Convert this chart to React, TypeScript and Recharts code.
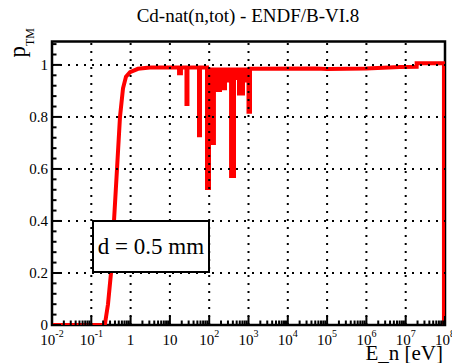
import React from 'react';
import { ComposedChart, Line, Area, XAxis, YAxis, ReferenceLine, ReferenceArea } from 'recharts';

const FONT = '"Liberation Serif", "Times New Roman", serif';

// neutron energy in eV
const energies = [
  0.01, 0.2, 0.223, 0.266, 0.317, 0.378, 0.451, 0.537, 0.641, 0.764, 0.966, 1.54, 3.1,
  17.1, 17.1, 19.1, 19.1,
  26.4, 26.4, 28.0, 28.0,
  55, 55, 58.3, 58.3,
  87.9, 87.9, 98.9, 98.9, 132, 132, 188, 188, 252, 252, 360, 360, 428, 428,
  573, 573, 724, 724, 1000, 1000, 1091, 1091,
  5e4, 1e5, 1e6, 7e6, 1.9e7, 1.9e7, 9.4e7, 9.4e7,
];
// transmission p_TM
const transmission = [
  0, 0, 0.005, 0.08, 0.2, 0.4, 0.6, 0.8, 0.91, 0.955, 0.972, 0.985, 0.99,
  0.99, 0.968, 0.968, 0.99,
  0.99, 0.85, 0.85, 0.99,
  0.99, 0.73, 0.73, 0.99,
  0.99, 0.527, 0.527, 0.7, 0.7, 0.904, 0.904, 0.91, 0.91, 0.94, 0.94, 0.573, 0.573, 0.95,
  0.95, 0.89, 0.89, 0.94, 0.94, 0.82, 0.82, 0.985,
  0.986, 0.984, 0.986, 0.992, 0.993, 1.006, 1.006, 0,
];
// resonance region (eV) and the plateau level the dips hang from
const resonanceRange = [15, 1100];
const plateau = 0.99;

const xDecades = [-2, -1, 0, 1, 2, 3, 4, 5, 6, 7, 8];
const yMajor = [0, 0.2, 0.4, 0.6, 0.8, 1];

const xMajorTicks = xDecades.map((k) => Math.pow(10, k));
const xMinorTicks: number[] = [];
xDecades.slice(0, -1).forEach((k) => {
  for (let m = 2; m <= 9; m++) xMinorTicks.push(m * Math.pow(10, k));
});
const xTicks = [...xMajorTicks, ...xMinorTicks].sort((a, b) => a - b);
const yTicks: number[] = [];
for (let i = 0; i <= 27; i++) yTicks.push(Math.round(i * 4) / 100);

const data = energies.map((e, i) => ({
  e,
  p: transmission[i],
  dip: e >= resonanceRange[0] && e <= resonanceRange[1] ? transmission[i] : null,
}));

const XMIN = 0.01;
const XMAX = 1e8;
const YMAX = 1.09;

const XTick = (props: any) => {
  const { x, y, payload } = props;
  const v = payload.value as number;
  const exp = Math.round(Math.log10(v));
  const major = Math.abs(v - Math.pow(10, exp)) < 1e-6 * v;
  return (
    <g>
      <line x1={x} x2={x} y1={y} y2={y - (major ? 9 : 4.5)} stroke="#000" strokeWidth={2} />
      {major && (
        <text x={x} y={y + 20} textAnchor="middle" fontSize={15} fontFamily={FONT} fill="#000">
          {exp === 0 ? (
            '1'
          ) : exp === 1 ? (
            '10'
          ) : (
            <>
              <tspan>10</tspan>
              <tspan dy={-8} fontSize={10}>{String(exp)}</tspan>
            </>
          )}
        </text>
      )}
    </g>
  );
};

const YTick = (props: any) => {
  const { x, y, payload } = props;
  const v = payload.value as number;
  const major = Math.abs(v * 5 - Math.round(v * 5)) < 1e-6;
  return (
    <g>
      <line x1={x} x2={x + (major ? 9 : 4.5)} y1={y} y2={y} stroke="#000" strokeWidth={2} />
      {major && (
        <text x={x - 4} y={y + 5} textAnchor="end" fontSize={15} fontFamily={FONT} fill="#000">
          {String(Number(v.toFixed(1)))}
        </text>
      )}
    </g>
  );
};

export default function App() {
  return (
    <div style={{ position: 'absolute', left: 0, top: 0, width: 452, height: 363, background: '#fff' }}>
      <ComposedChart
        width={452}
        height={363}
        data={data}
        margin={{ top: 41.5, right: 7, bottom: 0, left: 0 }}
      >
        <XAxis
          dataKey="e"
          type="number"
          scale="log"
          domain={[XMIN, XMAX]}
          allowDataOverflow
          ticks={xTicks}
          interval={0}
          tick={<XTick />}
          tickLine={false}
          tickSize={0}
          tickMargin={0}
          axisLine={false}
          height={38}
        />
        <YAxis
          type="number"
          domain={[0, YMAX]}
          allowDataOverflow
          ticks={yTicks}
          interval={0}
          tick={<YTick />}
          tickLine={false}
          tickSize={0}
          tickMargin={0}
          axisLine={false}
          width={52}
        />
        <Area
          type="linear"
          dataKey="dip"
          baseValue={plateau}
          stroke="none"
          fill="#ff0000"
          fillOpacity={1}
          connectNulls={false}
          isAnimationActive={false}
        />
        <Line
          type="linear"
          dataKey="p"
          stroke="#ff0000"
          strokeWidth={4}
          strokeLinejoin="miter"
          dot={false}
          isAnimationActive={false}
        />
        {xMajorTicks.slice(1, -1).map((v) => (
          <ReferenceLine key={'gx' + v} x={v} stroke="#000" strokeWidth={2} strokeDasharray="2 6" />
        ))}
        {yMajor.slice(1).map((v) => (
          <ReferenceLine key={'gy' + v} y={v} stroke="#000" strokeWidth={2} strokeDasharray="2 6" />
        ))}
        <ReferenceArea x1={XMIN} x2={XMAX} y1={0} y2={YMAX} fill="none" stroke="#000" strokeWidth={2.5} />
      </ComposedChart>
      <svg
        width={452}
        height={363}
        style={{ position: 'absolute', left: 0, top: 0, pointerEvents: 'none' }}
      >
        <text x={248} y={22} textAnchor="middle" fontSize={19} fontFamily={FONT} fill="#000">
          Cd-nat(n,tot) - ENDF/B-VI.8
        </text>
        <text x={443} y={360} textAnchor="end" fontSize={21} fontFamily={FONT} fill="#000">
          E_n [eV]
        </text>
        <text transform="rotate(-90)" x={-28} y={25} textAnchor="end" fontFamily={FONT} fill="#000">
          <tspan fontSize={23}>p</tspan>
          <tspan fontSize={12} dy={9}>TM</tspan>
        </text>
      </svg>
      <div
        style={{
          position: 'absolute',
          left: 92,
          top: 220,
          width: 118,
          height: 53,
          boxSizing: 'border-box',
          border: '2px solid #000',
          background: '#fff',
          fontFamily: FONT,
          fontSize: 23,
          lineHeight: '49px',
          textAlign: 'center',
          whiteSpace: 'nowrap',
        }}
      >
        d = 0.5 mm
      </div>
    </div>
  );
}
